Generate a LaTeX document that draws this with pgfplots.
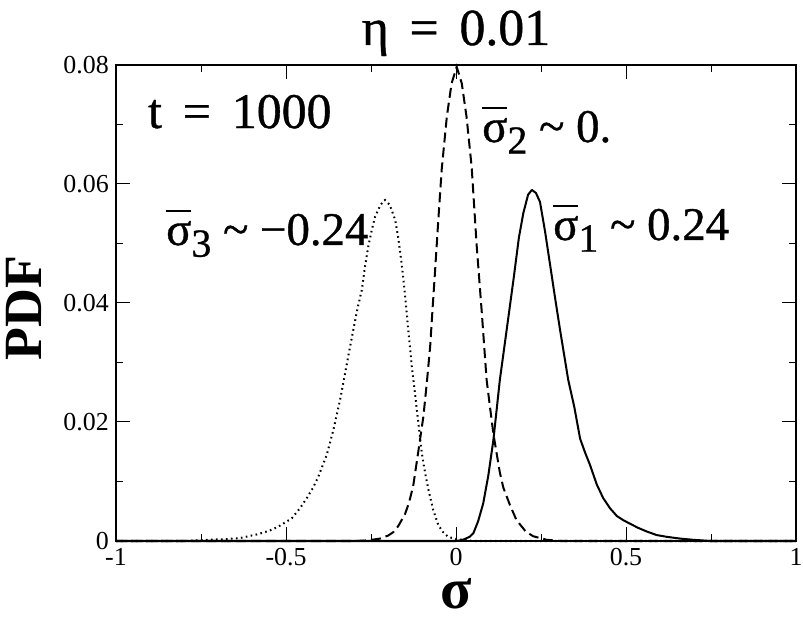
\documentclass[border=0pt]{standalone}
\usepackage{fontspec}
\setmainfont{Liberation Serif}
\newfontfamily\lser{Liberation Serif}
\newfontfamily\lserh{Liberation Serif}[FakeBold=0.8]
\usepackage{pgfplots}
\pgfplotsset{compat=1.18}
\usepackage{pgfplotstable}

\pgfplotstableread{
x y
-1 0
0 0
0.02 0.0002
0.04 0.0007
0.051 0.0013
0.065 0.0033
0.080 0.0063
0.095 0.011
0.110 0.017
0.129 0.0271
0.145 0.0338
0.169 0.0439
0.185 0.0510
0.198 0.0551
0.212 0.0582
0.223 0.0590
0.235 0.0585
0.247 0.0570
0.262 0.0520
0.276 0.0467
0.291 0.0410
0.306 0.0355
0.330 0.0271
0.348 0.0225
0.365 0.0172
0.380 0.0148
0.394 0.0128
0.414 0.0095
0.433 0.0072
0.453 0.0055
0.473 0.0042
0.492 0.0035
0.512 0.0029
0.536 0.0022
0.561 0.0016
0.590 0.0010
0.620 0.0007
0.660 0.0004
0.698 0.0002
0.75 0.0
1 0
}\sone

\pgfplotstableread{
x y
-1 0
-0.30 0
-0.26 0.0001
-0.224 0.0004
-0.200 0.0009
-0.184 0.0015
-0.170 0.0025
-0.150 0.0045
-0.138 0.0065
-0.126 0.0092
-0.111 0.0150
-0.096 0.0209
-0.086 0.0265
-0.076 0.0327
-0.069 0.0390
-0.062 0.0450
-0.052 0.0540
-0.042 0.0625
-0.027 0.0713
-0.013 0.0769
0.002 0.0797
0.017 0.0769
0.031 0.0713
0.046 0.0629
0.061 0.0495
0.076 0.0383
0.090 0.0271
0.100 0.0225
0.110 0.0180
0.129 0.0115
0.139 0.0090
0.159 0.0060
0.178 0.0035
0.188 0.0028
0.205 0.0016
0.227 0.0008
0.267 0.0002
0.31 0
1 0
}\stwo

\pgfplotstableread{
x y
-1 0
-0.80 0
-0.733 0.0002
-0.680 0.0003
-0.635 0.0005
-0.586 0.0011
-0.550 0.0017
-0.523 0.0024
-0.483 0.0038
-0.459 0.0055
-0.439 0.0072
-0.420 0.0090
-0.405 0.0108
-0.380 0.0145
-0.361 0.0186
-0.341 0.0237
-0.331 0.0267
-0.317 0.0310
-0.302 0.0355
-0.290 0.0390
-0.277 0.0422
-0.268 0.0460
-0.258 0.0495
-0.248 0.0522
-0.238 0.0545
-0.222 0.0565
-0.209 0.0573
-0.195 0.0565
-0.179 0.0540
-0.170 0.0510
-0.160 0.0467
-0.152 0.0425
-0.145 0.0383
-0.130 0.0293
-0.121 0.0250
-0.111 0.0200
-0.101 0.0150
-0.096 0.0131
-0.088 0.0106
-0.081 0.0086
-0.067 0.0052
-0.052 0.0027
-0.040 0.0016
-0.023 0.0007
0.002 0.0003
0.05 0.0
1 0
}\sthree

\newcommand{\sbar}{\leavevmode\setbox0\hbox{σ}\rlap{\raisebox{0.70em}{\rule{\wd0}{0.042em}}}\box0}
\newcommand{\sub}[1]{\raisebox{-0.25em}{\fontsize{40}{40}\selectfont #1}}

\begin{document}
\begin{tikzpicture}
\begin{axis}[
  at={(116bp,77bp)}, anchor=south west,
  scale only axis, width=680bp, height=476bp,
  xmin=-1, xmax=1, ymin=0, ymax=0.08,
  xtick={-1,-0.5,0,0.5,1},
  xticklabels={-1,-0.5,0,0.5,1},
  ytick={0,0.02,0.04,0.06,0.08},
  yticklabels={0,0.02,0.04,0.06,0.08},
  scaled y ticks=false, scaled x ticks=false,
  minor x tick num=1, minor y tick num=1,
  tick align=inside,
  major tick length=14bp, minor tick length=7bp,
  every tick/.style={black, line width=1bp},
  axis line style={line width=1.2bp},
  xticklabel style={font=\lser\fontsize{26}{30}\selectfont, inner sep=0pt, anchor=north, yshift=-7bp},
  yticklabel style={font=\lser\fontsize{26}{30}\selectfont, inner sep=0pt, anchor=east, xshift=-7bp},
  title={η\hspace{0.4em}=\hspace{0.4em}0.01},
  every axis title/.style={at={(0.5,1)}, anchor=base, yshift=20bp, inner sep=0pt, font=\lserh\fontsize{52}{60}\selectfont},
  xlabel={σ},
  every axis x label/.style={at={(0.5,0)}, anchor=base, yshift=-67bp, inner sep=0pt, font=\lser\bfseries\fontsize{58}{60}\selectfont},
  ylabel={PDF},
  every axis y label/.style={at={(-0.10882,0.4895)}, anchor=base, rotate=90, inner sep=0pt, font=\lser\bfseries\fontsize{54}{60}\selectfont},
  clip=false,
]
\addplot[black, line width=2bp, line join=round] table[x=x,y=y] {\sone};
\addplot[black, line width=2bp, dash pattern=on 10bp off 5bp] table[x=x,y=y] {\stwo};
\addplot[black, line width=2bp, dash pattern=on 1.6bp off 3.4bp] table[x=x,y=y] {\sthree};

\node[anchor=base west, inner sep=0pt, font=\lserh\fontsize{50}{60}\selectfont] at (axis cs:-0.906,0.06941) {t\hspace{0.42em}=\hspace{0.42em}1000};
\node[anchor=base west, inner sep=0pt, font=\lserh\fontsize{47}{55}\selectfont] at (axis cs:-0.853,0.04975) {\sbar\sub{3} \textasciitilde\ −0.24};
\node[anchor=base west, inner sep=0pt, font=\lserh\fontsize{47}{55}\selectfont] at (axis cs:0.0765,0.06706) {\sbar\sub{2} \textasciitilde\ 0.};
\node[anchor=base west, inner sep=0pt, font=\lserh\fontsize{47}{55}\selectfont] at (axis cs:0.2853,0.05059) {\sbar\sub{1} \textasciitilde\ 0.24};
\end{axis}
\pgfresetboundingbox
\path[use as bounding box] (0,0) rectangle (803bp,618bp);
\end{tikzpicture}
\end{document}
